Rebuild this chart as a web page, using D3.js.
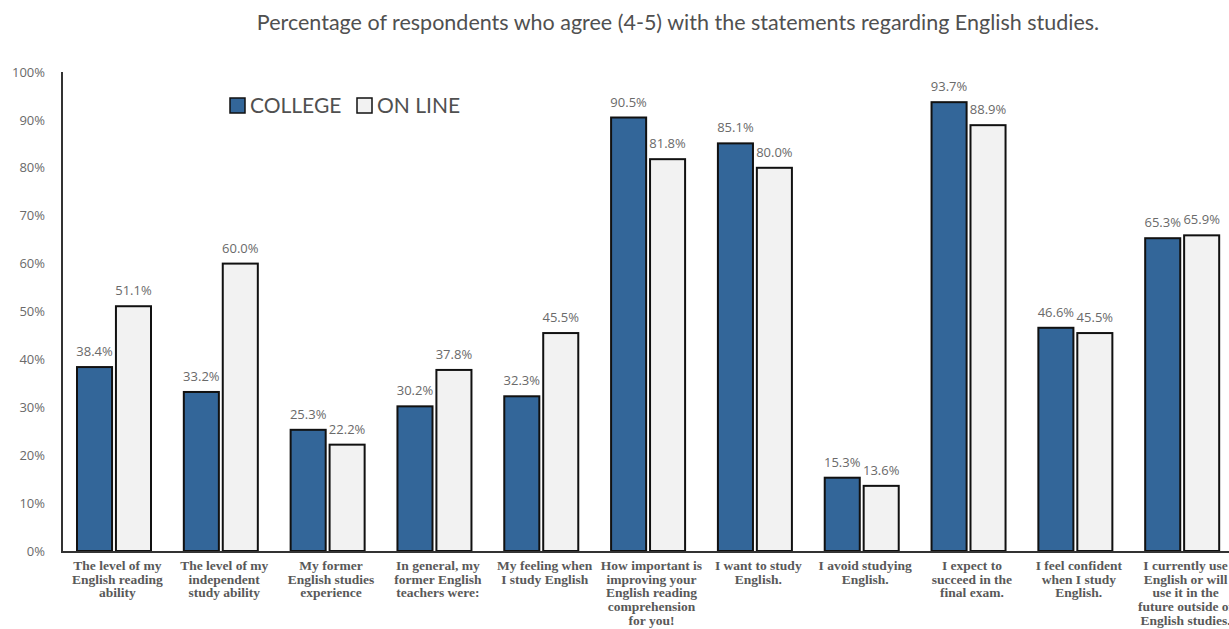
<!DOCTYPE html>
<html><head><meta charset="utf-8">
<script src="https://cdn.jsdelivr.net/npm/d3@7"></script>
<style>html,body{margin:0;padding:0;background:#fff;overflow:hidden}</style>
</head><body>
<svg id="chart" width="1229" height="629"></svg>
<script>
const categories = [
  ["The level of my","English reading","ability"],
  ["The level of my","independent","study ability"],
  ["My former","English studies","experience"],
  ["In general, my","former English","teachers were:"],
  ["My feeling when","I study English"],
  ["How important is","improving your","English reading","comprehension","for you!"],
  ["I want to study","English."],
  ["I avoid studying","English."],
  ["I expect to","succeed in the","final exam."],
  ["I feel confident","when I study","English."],
  ["I currently use","English or will","use it in the","future outside of","English studies."]
];
const seriesNames = ["COLLEGE", "ON LINE"];
const college = [38.4, 33.2, 25.3, 30.2, 32.3, 90.5, 85.1, 15.3, 93.7, 46.6, 65.3];
const online  = [51.1, 60.0, 22.2, 37.8, 45.5, 81.8, 80.0, 13.6, 88.9, 45.5, 65.9];
const yTicks = [0,10,20,30,40,50,60,70,80,90,100];
const title = "Percentage of respondents who agree (4-5) with the statements regarding English studies.";

(function(){
const colors = ["#336699", "#F2F2F2"];
const svg = d3.select("#chart");
const pLeft = 62, pRight = 1237, pTop = 72, pBottom = 551;

const x0 = d3.scaleBand().domain(d3.range(categories.length)).range([pLeft, pRight]).padding(0);
const x1 = d3.scaleBand().domain([0,1]).range([15, 89]).paddingInner(0.1);
const y = d3.scaleLinear().domain([0,100]).range([pBottom, pTop]);

// title
svg.append("text").attr("x", 678).attr("y", 30).attr("text-anchor","middle")
  .attr("font-family","Lato, 'Open Sans', sans-serif").attr("font-size", 21.5)
  .attr("fill","#505050").text(title);

// y tick labels
const yAxis = d3.axisLeft(y).tickValues(yTicks).tickFormat(d => d + "%").tickSize(0).tickPadding(17);
const ya = svg.append("g").attr("transform", `translate(${pLeft},0)`).call(yAxis);
ya.select(".domain").remove();
ya.selectAll("text").attr("font-family","'Open Sans', sans-serif").attr("font-size", 13).attr("fill","#6a6a6a");

// bars
const series = [college, online];
const groups = svg.append("g").selectAll("g").data(categories).join("g")
  .attr("transform", (d,i) => `translate(${x0(i)},0)`);

groups.each(function(cat, i) {
  const g = d3.select(this);
  series.forEach((vals, s) => {
    g.append("rect")
      .attr("x", x1(s)).attr("y", y(vals[i]))
      .attr("width", x1.bandwidth()).attr("height", y(0) - y(vals[i]))
      .attr("fill", colors[s]).attr("stroke", "#111").attr("stroke-width", 2);
  });
  series.forEach((vals, s) => {
    g.append("text")
      .attr("x", x1(s) + x1.bandwidth()/2).attr("y", y(vals[i]) - 11)
      .attr("text-anchor","middle")
      .attr("font-family","'Open Sans', sans-serif").attr("font-size", 13)
      .attr("fill","#6a6a6a").text(vals[i].toFixed(1) + "%");
  });
  const t = g.append("text").attr("text-anchor","middle")
    .attr("font-family","'Liberation Serif', 'Times New Roman', serif")
    .attr("font-weight","bold").attr("font-size", 13.5).attr("fill","#595959");
  cat.forEach((line, k) => {
    t.append("tspan").attr("x", x0.bandwidth()/2 + 2).attr("y", 570 + k*13.7).text(line);
  });
});

// axes lines
svg.append("line").attr("x1", pLeft).attr("x2", pLeft).attr("y1", pTop).attr("y2", pBottom + 1)
  .attr("stroke","#333").attr("stroke-width", 2);
svg.append("line").attr("x1", pLeft - 1).attr("x2", pRight).attr("y1", pBottom + 1).attr("y2", pBottom + 1)
  .attr("stroke","#333").attr("stroke-width", 2);

// legend
const legend = svg.append("g");
const legX = [230, 357];
seriesNames.forEach((name, s) => {
  legend.append("rect").attr("x", legX[s]).attr("y", 98).attr("width", 15).attr("height", 15)
    .attr("fill", colors[s]).attr("stroke","#111").attr("stroke-width", 1.5);
  legend.append("text").attr("x", legX[s] + 20).attr("y", 113)
    .attr("font-family","Lato, 'Open Sans', sans-serif").attr("font-size", 21)
    .attr("fill","#505050").text(name);
});
})();
</script>
</body></html>
